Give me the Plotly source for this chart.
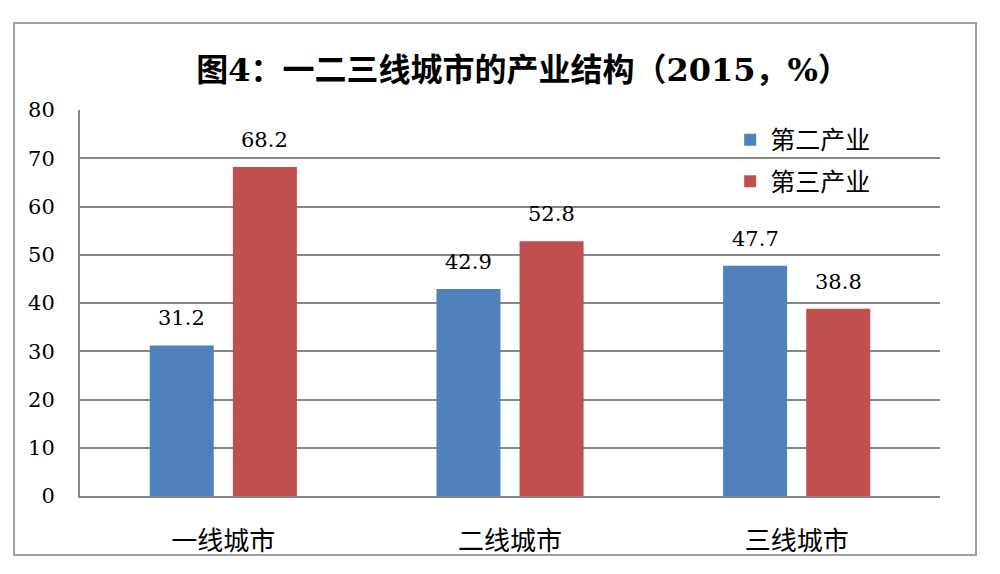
import plotly.graph_objects as go

categories = ["一线城市", "二线城市", "三线城市"]
secondary = [31.2, 42.9, 47.7]
tertiary = [68.2, 52.8, 38.8]
series_names = ["第二产业", "第三产业"]
y_ticks = [0, 10, 20, 30, 40, 50, 60, 70, 80]

serif = "DejaVu Serif"
cjk = "Noto Sans CJK SC"
colors = ["#4F81BD", "#C0504D"]

fig = go.Figure()
for name, vals, col, grp in [(series_names[0], secondary, colors[0], "a"),
                             (series_names[1], tertiary, colors[1], "b")]:
    fig.add_trace(go.Bar(
        x=categories, y=vals, name=name, legendgroup=grp,
        marker=dict(color=col, line=dict(width=0)),
    ))

annotations = []
for vals, shift in [(secondary, -41.5), (tertiary, 41.5)]:
    for c, v in zip(categories, vals):
        annotations.append(dict(
            x=c, y=v, xref="x", yref="y", text=f"{v:.1f}", showarrow=False,
            xshift=shift, yshift=13, yanchor="bottom", xanchor="center",
            font=dict(family=serif, size=21, color="#000000"),
        ))

fig.update_layout(
    width=1000, height=574,
    margin=dict(l=72, r=68, t=102, b=86),
    paper_bgcolor="white", plot_bgcolor="white",
    barmode="group", bargap=0.42, bargroupgap=0.23,
    title=dict(
        text="<b>图4：一二三线城市的产业结构（2015，%）</b>",
        x=0.515, xanchor="center", y=0.892, yanchor="middle",
        font=dict(family="DejaVu Serif, Noto Sans CJK SC", size=32, color="#000000"),
    ),
    showlegend=True,
    legend=dict(
        x=0.756, y=0.982, xanchor="left", yanchor="top",
        bgcolor="rgba(0,0,0,0)",
        font=dict(family=cjk, size=25, color="#000000"),
        tracegroupgap=6,
    ),
    xaxis=dict(
        showgrid=False, showline=True, linecolor="#868686", linewidth=2,
        tickfont=dict(family=cjk, size=26, color="#000000"),
        ticks="", ticklabelstandoff=21,
    ),
    yaxis=dict(
        range=[0, 80], tickvals=y_ticks,
        showgrid=True, gridcolor="#868686", gridwidth=1.5,
        showline=True, linecolor="#868686", linewidth=2,
        zeroline=False,
        tickfont=dict(family=serif, size=21, color="#000000"),
        ticks="", ticklabelstandoff=19,
    ),
    annotations=annotations,
    shapes=[dict(
        type="rect", xref="paper", yref="paper",
        x0=-0.0767, x1=1.0419, y0=-0.1528, y1=1.2254,
        line=dict(color="#A0A0A0", width=2), fillcolor="rgba(0,0,0,0)", layer="below",
    )],
)

fig.write_html("out.html")
